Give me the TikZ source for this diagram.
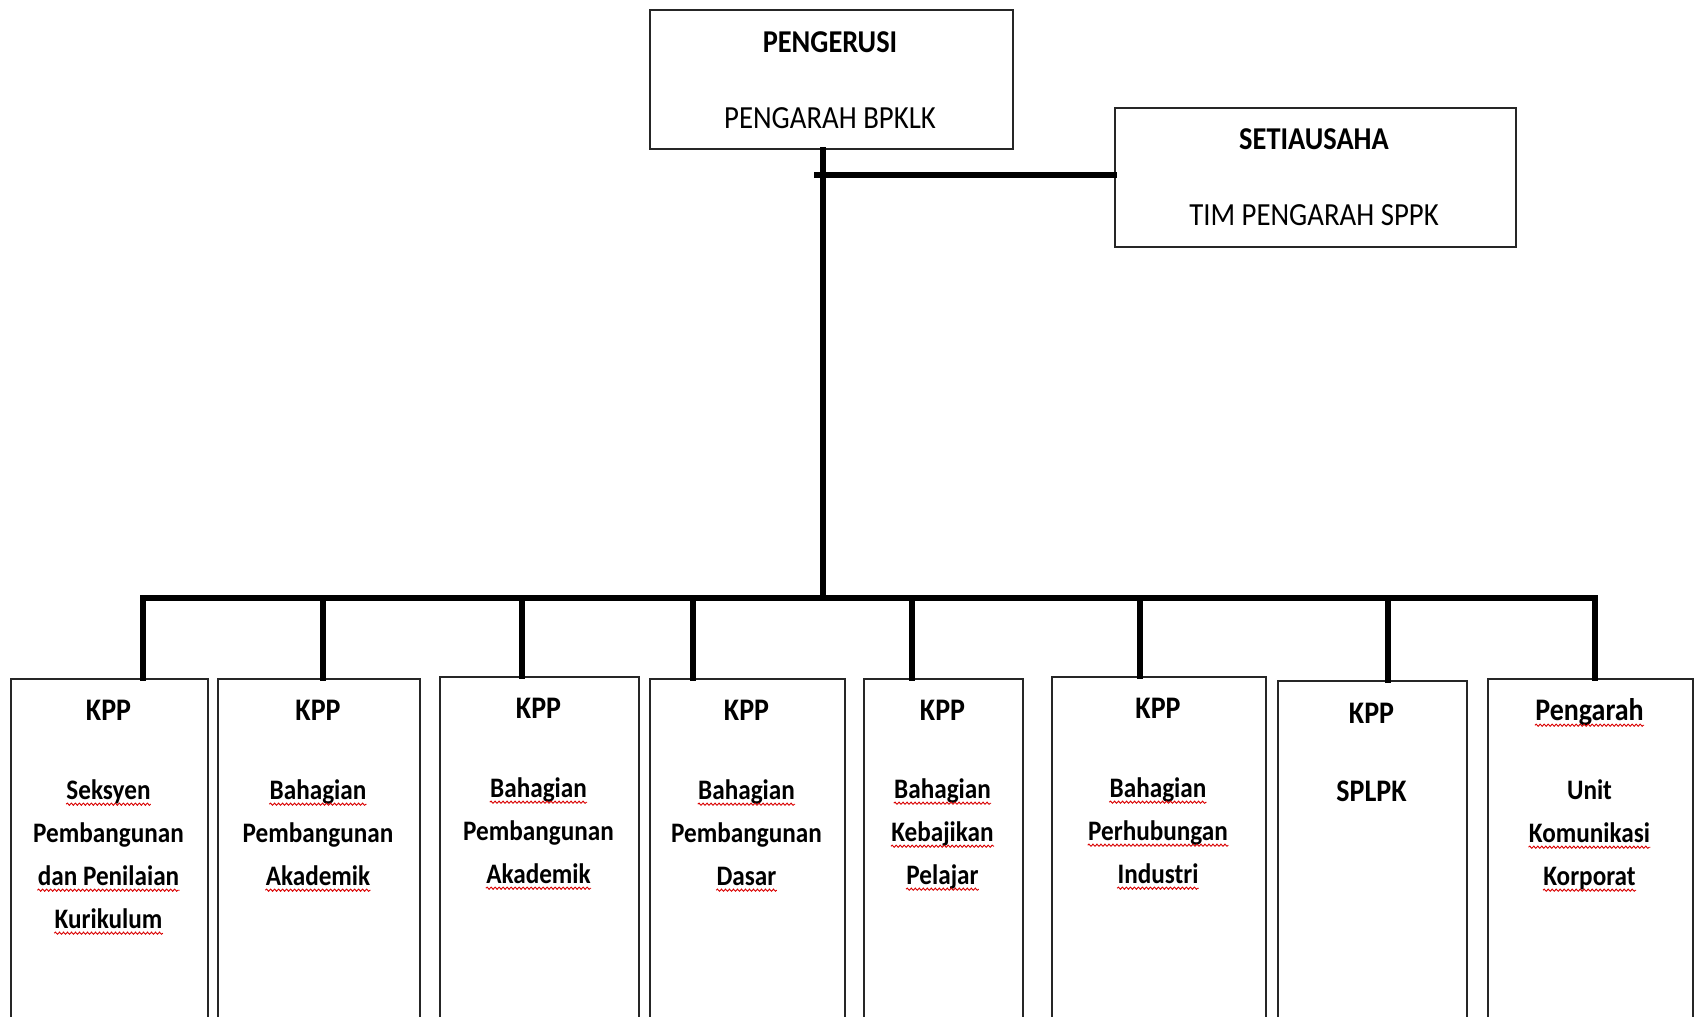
\documentclass[tikz,border=0pt]{standalone}
\usepackage{fontspec}
\setmainfont{Carlito}
\usetikzlibrary{decorations.pathmorphing}
\newcommand\ys[1]{\scalebox{1}[1.12]{#1}}
\tikzset{
  box/.style={draw=black!85, line width=0.75pt, rectangle, inner sep=0pt, anchor=north west},
  conn/.style={line width=2.6pt, line cap=rect},
  ttl/.style={font=\bfseries\fontsize{14.2}{16}\selectfont, anchor=base, inner sep=0pt},
  sub/.style={font=\fontsize{14.4}{16}\selectfont, anchor=base, inner sep=0pt},
  btl/.style={font=\bfseries\fontsize{14}{16}\selectfont, anchor=base, inner sep=0pt},
  bod/.style={font=\bfseries\fontsize{12.6}{15}\selectfont, anchor=base, inner sep=0pt},
  squig/.style={draw=red!85!black, line width=0.45pt, decorate, decoration={snake, amplitude=0.55pt, segment length=2pt}},
}
\begin{document}
\begin{tikzpicture}[x=0.5pt,y=-0.5pt]
\path[use as bounding box] (0,0) rectangle (1694,1017);
\clip (0,0) rectangle (1694,1017);
% top boxes
\node[box, minimum width=181.5pt, minimum height=69.5pt] (pg) at (649,9) {};
\node[box, minimum width=200.5pt, minimum height=69.5pt] (sec) at (1114,107) {};
\node[ttl] (pgt) at (830,53) {\ys{PENGERUSI}};
\node[sub] (pgs) at (830,128) {\ys{PENGARAH BPKLK}};
\node[ttl] (sect) at (1314,149) {\ys{SETIAUSAHA}};
\node[sub] (secs) at (1314,225) {\ys{TIM PENGARAH SPPK}};
% bottom boxes
\node[box, minimum width=98.5pt, minimum height=180pt] (b1) at (10,678) {};
\node[box, minimum width=101pt, minimum height=180pt] (b2) at (217,678) {};
\node[box, minimum width=99.5pt, minimum height=181pt] (b3) at (439,676) {};
\node[box, minimum width=97.5pt, minimum height=180pt] (b4) at (649,678) {};
\node[box, minimum width=79.5pt, minimum height=180pt] (b5) at (863,678) {};
\node[box, minimum width=107pt, minimum height=181pt] (b6) at (1051,676) {};
\node[box, minimum width=94.5pt, minimum height=179pt] (b7) at (1277,680) {};
\node[box, minimum width=102.5pt, minimum height=180pt] (b8) at (1487,678) {};
% connectors
\coordinate (tt) at (823,0);
\coordinate (bus) at (0,598);
\coordinate (sj) at (817,175);
\draw[conn] (tt |- pg.south) -- (tt |- bus);
\draw[conn] (sj) -- (sj -| sec.west);
\coordinate (d1) at (143,598);
\coordinate (d2) at (323,598);
\coordinate (d3) at (522,598);
\coordinate (d4) at (693,598);
\coordinate (d5) at (912,598);
\coordinate (d6) at (1140,598);
\coordinate (d7) at (1388,598);
\coordinate (d8) at (1595,598);
\draw[conn] (d1) -- (d8);
\foreach \i in {1,...,8}{\draw[conn] (d\i) -- (d\i |- b\i.north);}
% texts
\node[btl] (t1) at (108.5,720) {\ys{KPP}};
\node[bod] (t1a) at (108.5,799) {\ys{Seksyen}};
\node[bod] (t1b) at (108.5,842) {\ys{Pembangunan}};
\node[bod] (t1c) at (108.5,885) {\ys{dan Penilaian}};
\node[bod] (t1d) at (108.5,928) {\ys{Kurikulum}};
\node[btl] (t2) at (318,720) {\ys{KPP}};
\node[bod] (t2a) at (318,799) {\ys{Bahagian}};
\node[bod] (t2b) at (318,842) {\ys{Pembangunan}};
\node[bod] (t2c) at (318,885) {\ys{Akademik}};
\node[btl] (t3) at (538.5,718) {\ys{KPP}};
\node[bod] (t3a) at (538.5,797) {\ys{Bahagian}};
\node[bod] (t3b) at (538.5,840) {\ys{Pembangunan}};
\node[bod] (t3c) at (538.5,883) {\ys{Akademik}};
\node[btl] (t4) at (746.5,720) {\ys{KPP}};
\node[bod] (t4a) at (746.5,799) {\ys{Bahagian}};
\node[bod] (t4b) at (746.5,842) {\ys{Pembangunan}};
\node[bod] (t4c) at (746.5,885) {\ys{Dasar}};
\node[btl] (t5) at (942.5,720) {\ys{KPP}};
\node[bod] (t5a) at (942.5,798) {\ys{Bahagian}};
\node[bod] (t5b) at (942.5,841) {\ys{Kebajikan}};
\node[bod] (t5c) at (942.5,884) {\ys{Pelajar}};
\node[btl] (t6) at (1158,718) {\ys{KPP}};
\node[bod] (t6a) at (1158,797) {\ys{Bahagian}};
\node[bod] (t6b) at (1158,840) {\ys{Perhubungan}};
\node[bod] (t6c) at (1158,883) {\ys{Industri}};
\node[btl] (t7) at (1371.5,723) {\ys{KPP}};
\node[btl] (t7a) at (1371.5,801) {\ys{SPLPK}};
\node[btl] (t8) at (1589.5,720) {\ys{Pengarah}};
\node[bod] (t8a) at (1589.5,799) {\ys{Unit}};
\node[bod] (t8b) at (1589.5,842) {\ys{Komunikasi}};
\node[bod] (t8c) at (1589.5,885) {\ys{Korporat}};
% spell-check squiggles
\foreach \n in {t1a,t1c,t1d,t2a,t2c,t3a,t3c,t4a,t4c,t5a,t5b,t5c,t6a,t6b,t6c,t8,t8b,t8c}{
  \draw[squig] ([yshift=-2.6pt]\n.base west) -- ([yshift=-2.6pt]\n.base east);
}
\end{tikzpicture}
\end{document}
